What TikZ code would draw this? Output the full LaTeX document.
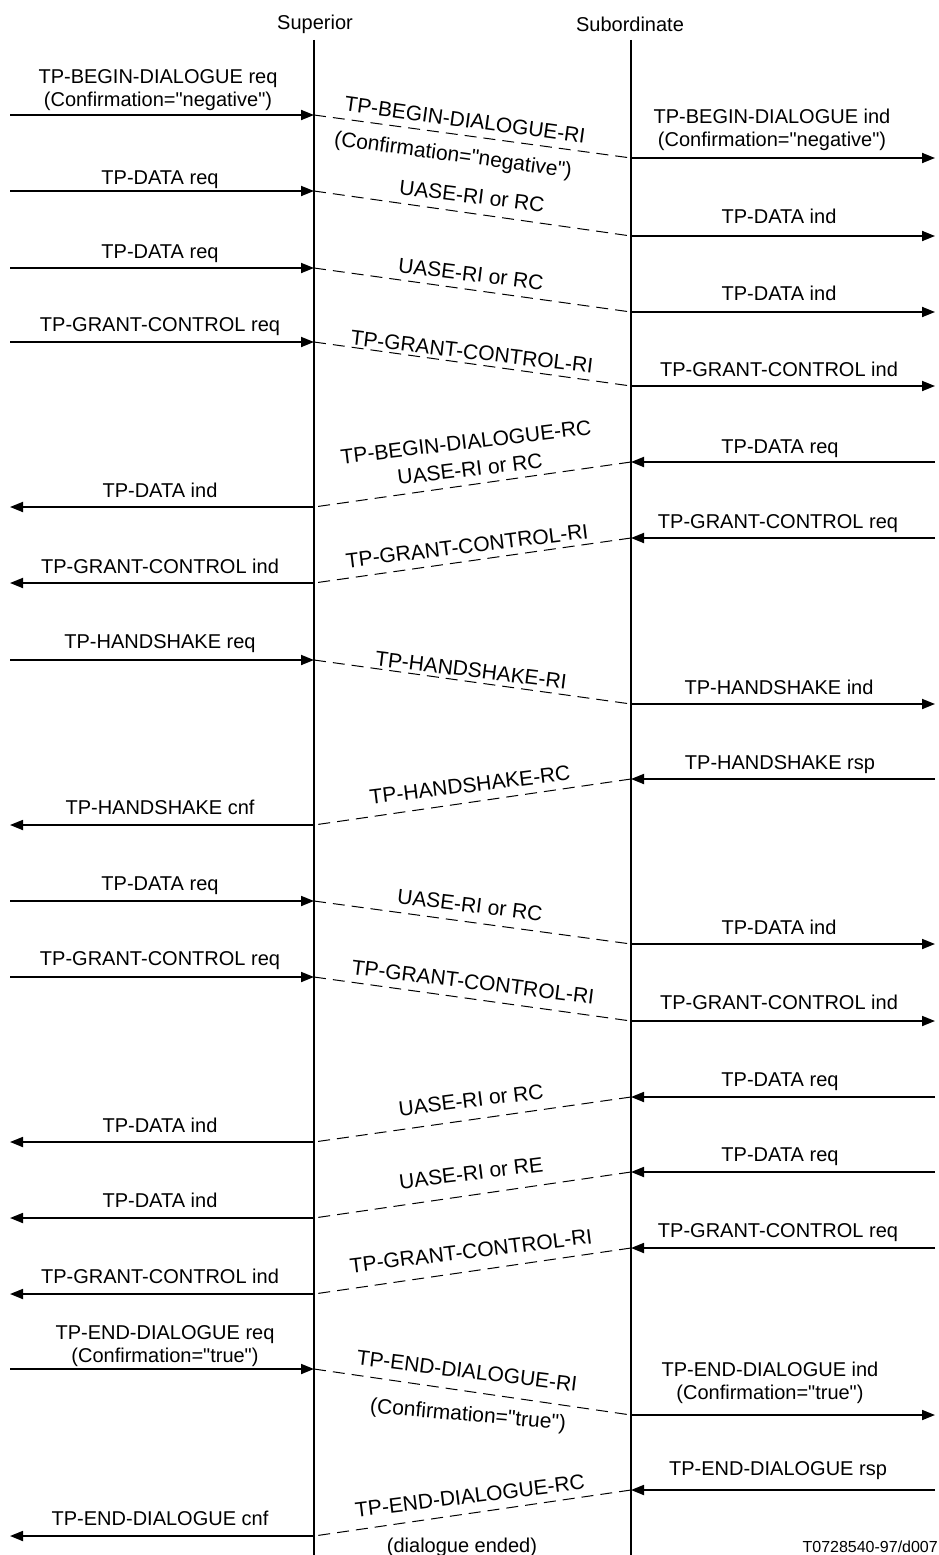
\documentclass[tikz,border=0pt]{standalone}
\usepackage{fontspec}
\setmainfont{Liberation Sans}[Ligatures=TeXOff]
\usetikzlibrary{arrows.meta}
\tikzset{
  life/.style={line width=1.6pt},
  sol/.style={line width=1.8pt,-{Triangle[length=13pt,width=10pt]}},
  dsh/.style={line width=1pt,dash pattern=on 12pt off 7pt},
  lbl/.style={font=\fontsize{20}{23}\selectfont,inner sep=0pt,anchor=base},
  slbl/.style={font=\fontsize{21}{24}\selectfont,inner sep=0pt},
  tiny/.style={font=\fontsize{16}{18}\selectfont,inner sep=0pt,anchor=base},
}
\newcommand\msgdown[3]{%
  \coordinate (#1-a) at (10,#2);
  \coordinate (#1-b) at (314,#2);
  \coordinate (#1-c) at (631,#3);
  \coordinate (#1-d) at (935,#3);
  \draw[sol] (#1-a) -- (#1-b);
  \draw[dsh] (#1-b) -- (#1-c);
  \draw[sol] (#1-c) -- (#1-d);}
\newcommand\msgup[3]{%
  \coordinate (#1-a) at (935,#2);
  \coordinate (#1-b) at (631,#2);
  \coordinate (#1-c) at (314,#3);
  \coordinate (#1-d) at (10,#3);
  \draw[sol] (#1-a) -- (#1-b);
  \draw[dsh] (#1-b) -- (#1-c);
  \draw[sol] (#1-c) -- (#1-d);}
\begin{document}
\begin{tikzpicture}[x=1pt,y=-1pt]
\useasboundingbox (0,0) rectangle (939,1555);
% lifelines
\node[lbl] (hsup) at (315,30) {Superior};
\node[lbl] (hsub) at (630,32) {Subordinate};
\coordinate (supT) at (314,40); \coordinate (supB) at (314,1555);
\coordinate (subT) at (631,40); \coordinate (subB) at (631,1555);
\draw[life] (supT) -- (supB);
\draw[life] (subT) -- (subB);

% row 1
\msgdown{r1}{115}{158}
\node[lbl] (r1l1) at (158,83) {TP-BEGIN-DIALOGUE req};
\node[lbl] (r1l2) at (158,106) {(Confirmation="negative")};
\node[slbl,rotate=-7.8] (r1m1) at (465,120) {TP-BEGIN-DIALOGUE-RI};
\node[slbl,rotate=-7.8] (r1m2) at (453,156) {(Confirmation="negative")};
\node[lbl] (r1r1) at (772,123) {TP-BEGIN-DIALOGUE ind};
\node[lbl] (r1r2) at (772,146) {(Confirmation="negative")};

% row 2
\msgdown{r2}{191}{236}
\node[lbl] (r2l) at (160,184) {TP-DATA req};
\node[slbl,rotate=-7] (r2m) at (472,196) {UASE-RI or RC};
\node[lbl] (r2r) at (779,223) {TP-DATA ind};

% row 3
\msgdown{r3}{268}{312}
\node[lbl] (r3l) at (160,258) {TP-DATA req};
\node[slbl,rotate=-7] (r3m) at (471,274) {UASE-RI or RC};
\node[lbl] (r3r) at (779,300) {TP-DATA ind};

% row 4
\msgdown{r4}{342}{386}
\node[lbl] (r4l) at (160,331) {TP-GRANT-CONTROL req};
\node[slbl,rotate=-6.7] (r4m) at (472,352) {TP-GRANT-CONTROL-RI};
\node[lbl] (r4r) at (779,376) {TP-GRANT-CONTROL ind};

% row 5
\msgup{r5}{462}{507}
\node[lbl] (r5r) at (780,453) {TP-DATA req};
\node[slbl,rotate=6.8] (r5m1) at (466,442) {TP-BEGIN-DIALOGUE-RC};
\node[slbl,rotate=6.8] (r5m2) at (470,469) {UASE-RI or RC};
\node[lbl] (r5l) at (160,497) {TP-DATA ind};

% row 6
\msgup{r6}{538}{583}
\node[lbl] (r6r) at (778,528) {TP-GRANT-CONTROL req};
\node[slbl,rotate=7] (r6m) at (467,546) {TP-GRANT-CONTROL-RI};
\node[lbl] (r6l) at (160,573) {TP-GRANT-CONTROL ind};

% row 7
\msgdown{r7}{660}{704}
\node[lbl] (r7l) at (160,648) {TP-HANDSHAKE req};
\node[slbl,rotate=-7] (r7m) at (471,670) {TP-HANDSHAKE-RI};
\node[lbl] (r7r) at (779,694) {TP-HANDSHAKE ind};

% row 8
\msgup{r8}{779}{825}
\node[lbl] (r8r) at (780,769) {TP-HANDSHAKE rsp};
\node[slbl,rotate=7] (r8m) at (470,785) {TP-HANDSHAKE-RC};
\node[lbl] (r8l) at (160,814) {TP-HANDSHAKE cnf};

% row 9
\msgdown{r9}{901}{944}
\node[lbl] (r9l) at (160,890) {TP-DATA req};
\node[slbl,rotate=-7] (r9m) at (470,905) {UASE-RI or RC};
\node[lbl] (r9r) at (779,934) {TP-DATA ind};

% row 10
\msgdown{r10}{977}{1021}
\node[lbl] (r10l) at (160,965) {TP-GRANT-CONTROL req};
\node[slbl,rotate=-7] (r10m) at (473,982) {TP-GRANT-CONTROL-RI};
\node[lbl] (r10r) at (779,1009) {TP-GRANT-CONTROL ind};

% row 11
\msgup{r11}{1097}{1142}
\node[lbl] (r11r) at (780,1086) {TP-DATA req};
\node[slbl,rotate=7] (r11m) at (471,1100) {UASE-RI or RC};
\node[lbl] (r11l) at (160,1132) {TP-DATA ind};

% row 12
\msgup{r12}{1172}{1218}
\node[lbl] (r12r) at (780,1161) {TP-DATA req};
\node[slbl,rotate=7] (r12m) at (471,1173) {UASE-RI or RE};
\node[lbl] (r12l) at (160,1207) {TP-DATA ind};

% row 13
\msgup{r13}{1248}{1294}
\node[lbl] (r13r) at (778,1237) {TP-GRANT-CONTROL req};
\node[slbl,rotate=7] (r13m) at (471,1251) {TP-GRANT-CONTROL-RI};
\node[lbl] (r13l) at (160,1283) {TP-GRANT-CONTROL ind};

% row 14
\msgdown{r14}{1369}{1415}
\node[lbl] (r14l1) at (165,1339) {TP-END-DIALOGUE req};
\node[lbl] (r14l2) at (165,1362) {(Confirmation="true")};
\node[slbl,rotate=-7] (r14m1) at (467,1371) {TP-END-DIALOGUE-RI};
\node[slbl,rotate=-5] (r14m2) at (468,1416) {(Confirmation="true")};
\node[lbl] (r14r1) at (770,1376) {TP-END-DIALOGUE ind};
\node[lbl] (r14r2) at (770,1399) {(Confirmation="true")};

% row 15
\msgup{r15}{1490}{1536}
\node[lbl] (r15r) at (778,1475) {TP-END-DIALOGUE rsp};
\node[slbl,rotate=7] (r15m) at (470,1496) {TP-END-DIALOGUE-RC};
\node[lbl] (r15l) at (160,1525) {TP-END-DIALOGUE cnf};
\node[lbl] (r15e) at (462,1552) {(dialogue ended)};

\node[tiny,anchor=base east] (ref) at (938,1552) {T0728540-97/d007};
\end{tikzpicture}
\end{document}
